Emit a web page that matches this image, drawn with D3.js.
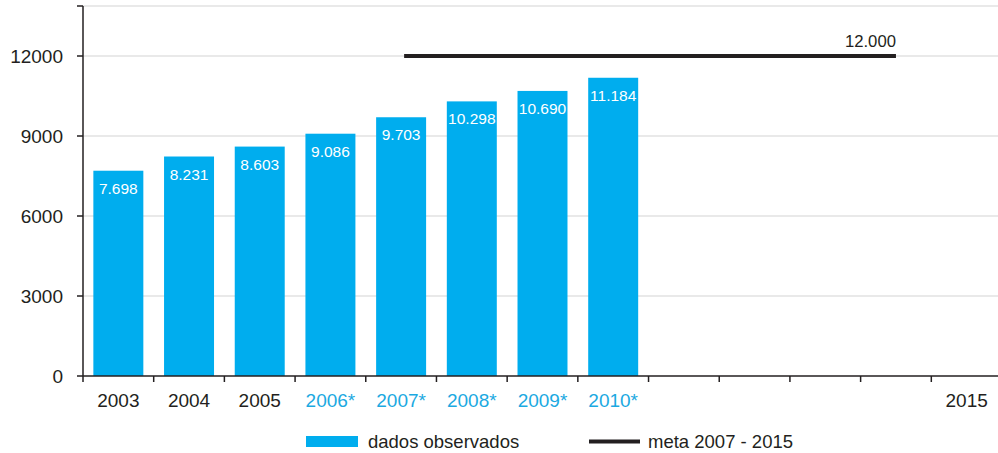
<!DOCTYPE html>
<html>
<head>
<meta charset="utf-8">
<script src="https://cdn.jsdelivr.net/npm/d3@7"></script>
<style>
  body { margin: 0; background: #fff; }
  text { font-family: "Liberation Sans", Arial, sans-serif; }
</style>
</head>
<body>
<svg></svg>
<script>
const width = 998;
const height = 453;

// data
const years = ["2003", "2004", "2005", "2006", "2007", "2008", "2009", "2010",
               "2011", "2012", "2013", "2014", "2015"];
const yearLabels = ["2003", "2004", "2005", "2006*", "2007*", "2008*", "2009*", "2010*",
                    "", "", "", "", "2015"];
const observedYears = ["2003", "2004", "2005", "2006", "2007", "2008", "2009", "2010"];
const observedValues = [7698, 8231, 8603, 9086, 9703, 10298, 10690, 11184];
const metaYears = ["2007", "2014"];
const metaValue = 12000;
const yTicks = [0, 3000, 6000, 9000, 12000];

const blue = "#00adee";
const dark = "#231f20";
const fmt = v => d3.format(",")(v).replace(/,/g, ".");

const svg = d3.select("svg").attr("width", width).attr("height", height);

const x = d3.scaleBand().domain(years).range([83, 1002])
    .paddingInner(0.293).paddingOuter(0.1465);
const y = d3.scaleLinear().domain([0, 13875]).range([376, 6]);

// grid
svg.append("g").selectAll("line")
    .data(yTicks.slice(1).concat([13875]))
    .enter().append("line")
    .attr("x1", 83).attr("x2", width)
    .attr("y1", d => y(d)).attr("y2", d => y(d))
    .style("stroke", "#d4d4d4").style("stroke-width", 1.2);

// bars
svg.append("g").selectAll("rect")
    .data(observedValues)
    .enter().append("rect")
    .attr("x", (d, i) => x(observedYears[i]))
    .attr("width", x.bandwidth())
    .attr("y", d => y(d))
    .attr("height", d => y(0) - y(d))
    .style("fill", blue);

svg.append("g").selectAll("text")
    .data(observedValues)
    .enter().append("text")
    .attr("x", (d, i) => x(observedYears[i]) + x.bandwidth() / 2)
    .attr("y", d => y(d) + 23)
    .attr("text-anchor", "middle")
    .style("font-size", "15.5px")
    .style("fill", "#fff")
    .text(d => fmt(d));

// meta line
const mx1 = x(metaYears[0]) + x.bandwidth() / 2 + 3;
const mx2 = x(metaYears[1]) + x.bandwidth() / 2;
svg.append("line")
    .attr("x1", mx1).attr("x2", mx2)
    .attr("y1", y(metaValue)).attr("y2", y(metaValue))
    .style("stroke", dark).style("stroke-width", 4);
svg.append("text")
    .attr("x", mx2).attr("y", y(metaValue) - 9)
    .attr("text-anchor", "end")
    .style("font-size", "16.7px")
    .style("fill", dark)
    .text(fmt(metaValue));

// y axis
const yAxis = svg.append("g");
yAxis.append("line")
    .attr("x1", 83).attr("x2", 83).attr("y1", y(13875)).attr("y2", y(0))
    .style("stroke", dark).style("stroke-width", 1.5);
yAxis.selectAll(".tick")
    .data(yTicks.concat([13875]))
    .enter().append("line")
    .attr("x1", 77).attr("x2", 83)
    .attr("y1", d => y(d)).attr("y2", d => y(d))
    .style("stroke", dark).style("stroke-width", 1.5);
yAxis.selectAll("text")
    .data(yTicks)
    .enter().append("text")
    .attr("x", 63).attr("y", d => y(d) + 7)
    .attr("text-anchor", "end")
    .style("font-size", "19px")
    .style("fill", dark)
    .text(d => d);

// x axis
const xAxis = svg.append("g");
xAxis.append("line")
    .attr("x1", 83).attr("x2", width).attr("y1", y(0)).attr("y2", y(0))
    .style("stroke", dark).style("stroke-width", 1.5);
xAxis.selectAll(".tick")
    .data(years)
    .enter().append("line")
    .attr("x1", d => x(d) - x.step() * x.paddingOuter())
    .attr("x2", d => x(d) - x.step() * x.paddingOuter())
    .attr("y1", y(0)).attr("y2", y(0) + 6)
    .style("stroke", dark).style("stroke-width", 1.5);
xAxis.selectAll("text")
    .data(years)
    .enter().append("text")
    .attr("x", d => x(d) + x.bandwidth() / 2)
    .attr("y", 407)
    .attr("text-anchor", "middle")
    .style("font-size", "19px")
    .style("fill", (d, i) => yearLabels[i].includes("*") ? "#1ba9e1" : dark)
    .text((d, i) => yearLabels[i]);

// legend
const legend = svg.append("g");
legend.append("rect")
    .attr("x", 306).attr("y", 436).attr("width", 52).attr("height", 11)
    .style("fill", blue);
legend.append("text")
    .attr("x", 368).attr("y", 448)
    .style("font-size", "18.5px").style("fill", dark)
    .text("dados observados");
legend.append("line")
    .attr("x1", 589).attr("x2", 640).attr("y1", 441.5).attr("y2", 441.5)
    .style("stroke", dark).style("stroke-width", 4);
legend.append("text")
    .attr("x", 648).attr("y", 448)
    .style("font-size", "18.5px").style("fill", dark)
    .text("meta 2007 - 2015");
</script>
</body>
</html>
